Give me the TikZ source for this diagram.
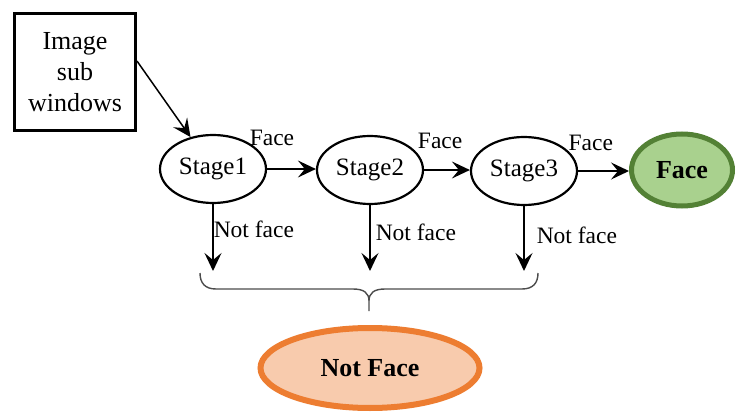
\documentclass[tikz,border=0pt]{standalone}
\usepackage{fontspec}
\setmainfont{Liberation Serif}
\usetikzlibrary{arrows.meta,shapes.geometric}

\definecolor{facefill}{HTML}{A9D18E}
\definecolor{faceline}{HTML}{538135}
\definecolor{nonfill}{HTML}{F8CBAD}
\definecolor{nonline}{HTML}{ED7D31}

\begin{document}
\begin{tikzpicture}[x=1pt,y=-1pt,
    stage/.style={draw, ellipse, line width=2.2pt, minimum width=106pt, minimum height=68pt, inner sep=0pt, font=\fontsize{25}{30}\selectfont},
    arr/.style={-{Stealth[length=18pt,width=17pt,inset=7pt]}, line width=1.5pt},
    lbl/.style={inner sep=0pt, font=\fontsize{23.5}{28}\selectfont},
    result/.style={ellipse, inner sep=0pt, font=\bfseries\fontsize{26}{31}\selectfont}]
    \useasboundingbox (0,0) rectangle (736,414);

    \node[draw, line width=3pt, minimum width=121pt, minimum height=117pt, align=center, font=\fontsize{26}{31}\selectfont] (box) at (75,72) {Image\\sub\\windows};

    \node[stage] (s1) at (213,169) {Stage1};
    \node[stage] (s2) at (370,170) {Stage2};
    \node[stage] (s3) at (524,171) {Stage3};

    \node[result, draw=faceline, fill=facefill, line width=5pt, minimum width=101pt, minimum height=72pt] (face) at (682,170) {Face};
    \node[result, draw=nonline, fill=nonfill, line width=6pt, minimum width=219pt, minimum height=80pt] (nonface) at (370,368) {Not Face};

    \draw[arr] (box.10) -- (s1);

    \draw[arr] (s1.east) -- node[lbl, pos=0.1, above=23pt] (f1) {Face} (s1.east -| s2.west);
    \draw[arr] (s2.east) -- node[lbl, pos=0.35, above=21pt] (f2) {Face} (s2.east -| s3.west);
    \draw[arr] (s3.east) -- node[lbl, pos=0.25, above=20pt] (f3) {Face} (s3.east -| face.west);

    \coordinate (n1) at (s1.south |- 0,271);
    \coordinate (n2) at (s2.south |- 0,271);
    \coordinate (n3) at (s3.south |- 0,271);
    \draw[arr] (s1.south) -- node[lbl, pos=0.37, right] (nf1) {Not face} (n1);
    \draw[arr] (s2.south) -- node[lbl, pos=0.42, right=5pt] (nf2) {Not face} (n2);
    \draw[arr] (s3.south) -- node[lbl, pos=0.45, right=12pt] (nf3) {Not face} (n3);

    \draw[line width=1.4pt, draw=black!70] (200,273) .. controls (200,283) and (205,289) .. (216,289) -- (353,289)
        .. controls (364,289) and (369,293) .. (369,301) -- (369,311) -- (369,301)
        .. controls (369,293) and (374,289) .. (385,289) -- (522,289) .. controls (533,289) and (538,283) .. (538,273);
\end{tikzpicture}
\end{document}
